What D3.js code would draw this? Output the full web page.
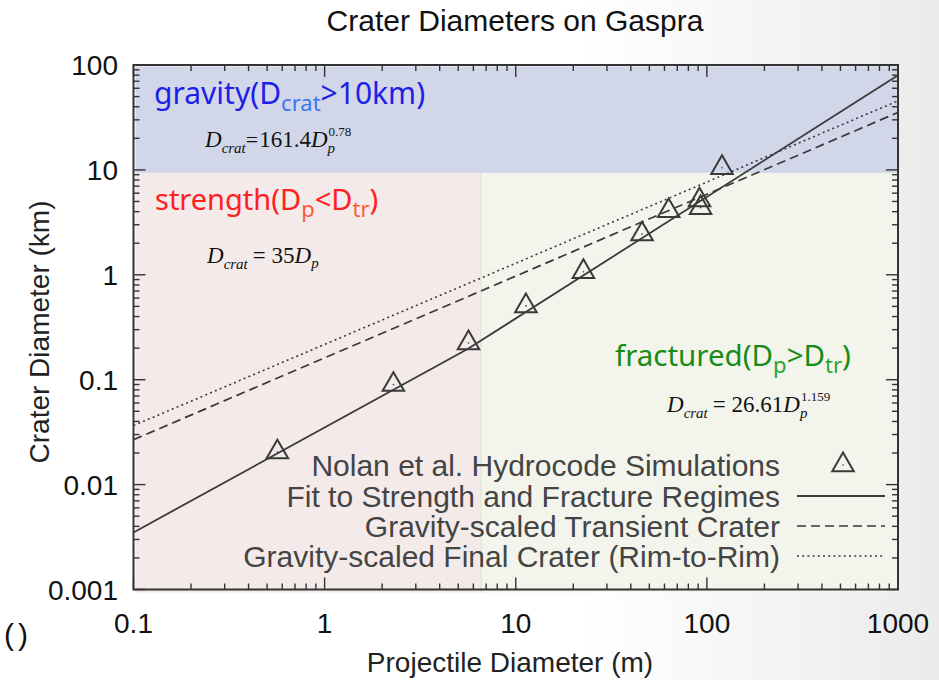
<!DOCTYPE html>
<html>
<head>
<meta charset="utf-8">
<script src="https://cdn.jsdelivr.net/npm/d3@7"></script>
<style>
  html, body { margin: 0; padding: 0; background: #fff; }
  svg { display: block; }
</style>
</head>
<body>
<svg id="chart" width="939" height="680"></svg>
<script>
// Hydrocode crater sizes on Gaspra: projectile diameter (m) vs crater diameter (km)
const simProjectile = [0.566, 2.29, 5.66, 11.3, 22.6, 45.8, 63.1, 91.5, 92.7, 120];
const simCrater     = [0.0204, 0.0898, 0.224, 0.505, 1.07, 2.44, 4.07, 5.15, 4.35, 10.5];

// Fit: 35 Dp in the strength regime, 26.61 Dp^1.159 in the fractured regime (metres -> km)
const fitProjectile = [0.1, 5.6, 1000];
const fitCrater     = [0.0035, 0.196, 79.8];

// Gravity scaling: transient 161.4 Dp^0.78, final rim-to-rim crater
const transientProjectile = [0.1, 1000];
const transientCrater     = [0.0268, 35.3];
const finalProjectile     = [0.1, 1000];
const finalCrater         = [0.0365, 45.5];

const strengthLimit = 6.5;   // projectile size (m) where the strength regime ends
const gravityLimit  = 10;    // crater size (km) above which gravity dominates

const xTicks      = [0.1, 1, 10, 100, 1000];
const xTickLabels = ["0.1", "1", "10", "100", "1000"];
const yTicks      = [0.001, 0.01, 0.1, 1, 10, 100];
const yTickLabels = ["0.001", "0.01", "0.1", "1", "10", "100"];

const legendLabels = [
  "Nolan et al. Hydrocode Simulations",
  "Fit to Strength and Fracture Regimes",
  "Gravity-scaled Transient Crater",
  "Gravity-scaled Final Crater (Rim-to-Rim)"
];

const W = 939, H = 680;
const plot = { left: 133.5, right: 898, top: 65, bottom: 589.5 };
const ink = "#3a3a3a";
const sans = "'Liberation Sans', Arial, Helvetica, sans-serif";
const serif = "'Liberation Serif', 'Times New Roman', serif";
const round = "'Noto Sans', 'Open Sans', sans-serif";

const svg = d3.select("#chart");

// page backdrop: white fading to light grey toward the right
const defs = svg.append("defs");
const bg = defs.append("linearGradient").attr("id", "pageBg")
  .attr("x1", "0").attr("x2", "1").attr("y1", "0").attr("y2", "0");
bg.append("stop").attr("offset", "0.62").attr("stop-color", "#ffffff");
bg.append("stop").attr("offset", "1").attr("stop-color", "#ebebeb");
svg.append("rect").attr("width", W).attr("height", H).attr("fill", "url(#pageBg)");

const x = d3.scaleLog().domain([0.1, 1000]).range([plot.left, plot.right]);
const y = d3.scaleLog().domain([0.001, 100]).range([plot.bottom, plot.top]);

// regime shading (drawn with a slight drop offset)
const shade = svg.append("g");
const xs = x(strengthLimit), yg = y(gravityLimit);
shade.append("rect")
  .attr("x", plot.left + 2).attr("y", plot.top + 1.5)
  .attr("width", plot.right - plot.left - 2).attr("height", yg - plot.top + 1.5)
  .attr("fill", "#d1d7e8");
shade.append("rect")
  .attr("x", plot.left + 2).attr("y", yg + 3)
  .attr("width", xs - plot.left - 2).attr("height", plot.bottom - yg)
  .attr("fill", "#f4eaea");
shade.append("rect")
  .attr("x", xs).attr("y", yg + 3)
  .attr("width", 2.5).attr("height", plot.bottom - yg)
  .attr("fill", "#e8e8dd");
shade.append("rect")
  .attr("x", xs + 2.5).attr("y", yg + 3)
  .attr("width", plot.right - xs - 2.5).attr("height", plot.bottom - yg)
  .attr("fill", "#f3f5ec");

// frame ticks on all four sides, pointing inward
const ticks = svg.append("g").attr("stroke", "#333").attr("stroke-width", 1.4);
const isMajor = v => Math.abs(Math.log10(v) - Math.round(Math.log10(v))) < 1e-9;
x.ticks().forEach(v => {
  const len = isMajor(v) ? 12 : 6;
  const px = x(v);
  ticks.append("line").attr("x1", px).attr("x2", px).attr("y1", plot.bottom).attr("y2", plot.bottom - len);
  ticks.append("line").attr("x1", px).attr("x2", px).attr("y1", plot.top).attr("y2", plot.top + len);
});
y.ticks().forEach(v => {
  const len = isMajor(v) ? 12 : 6;
  const py = y(v);
  ticks.append("line").attr("y1", py).attr("y2", py).attr("x1", plot.left).attr("x2", plot.left + len);
  ticks.append("line").attr("y1", py).attr("y2", py).attr("x1", plot.right).attr("x2", plot.right - len);
});

// frame
svg.append("rect")
  .attr("x", plot.left).attr("y", plot.top)
  .attr("width", plot.right - plot.left).attr("height", plot.bottom - plot.top)
  .attr("fill", "none").attr("stroke", "#333").attr("stroke-width", 2);

// tick labels
svg.append("g").selectAll("text").data(xTicks).join("text")
  .attr("x", d => x(d)).attr("y", 633)
  .attr("text-anchor", "middle")
  .attr("font-family", sans).attr("font-size", 28).attr("fill", "#111")
  .text((d, i) => xTickLabels[i]);
svg.append("g").selectAll("text").data(yTicks).join("text")
  .attr("x", 118).attr("y", d => y(d) + 10)
  .attr("text-anchor", "end")
  .attr("font-family", sans).attr("font-size", 28).attr("fill", "#111")
  .text((d, i) => yTickLabels[i]);

// lines
const line = d3.line().x(d => x(d[0])).y(d => y(d[1]));
const lines = svg.append("g").attr("fill", "none").attr("stroke", ink);
lines.append("path").datum(d3.zip(finalProjectile, finalCrater))
  .attr("d", line).attr("stroke-width", 1.6).attr("stroke-dasharray", "2,3.2");
lines.append("path").datum(d3.zip(transientProjectile, transientCrater))
  .attr("d", line).attr("stroke-width", 1.7).attr("stroke-dasharray", "9,5");
lines.append("path").datum(d3.zip(fitProjectile, fitCrater))
  .attr("d", line).attr("stroke-width", 1.8);

// simulation points
const tri = d3.symbol(d3.symbolTriangle, 200);
const pts = svg.append("g").selectAll("g").data(d3.zip(simProjectile, simCrater)).join("g")
  .attr("transform", d => `translate(${x(d[0])},${y(d[1])})`);
pts.append("path").attr("d", tri).attr("fill", "none").attr("stroke", ink).attr("stroke-width", 2);
pts.append("circle").attr("r", 0.8).attr("fill", ink);

// text runs with subscripts / superscripts
function richText(x0, y0, parts) {
  const g = svg.append("g");
  let cx = x0, subStart = x0;
  parts.forEach(p => {
    let px = cx + (p.lead || 0);
    if (p.role === "sup" && p.over) px = subStart + (p.lead || 0);
    const t = g.append("text")
      .attr("x", px).attr("y", y0 + (p.dy || 0))
      .attr("font-family", p.family).attr("font-size", p.size)
      .attr("font-style", p.italic ? "italic" : "normal")
      .attr("fill", p.color)
      .text(p.text);
    const w = t.node().getComputedTextLength();
    if (p.role === "sub") subStart = px;
    if (p.role === "sup" && p.over) cx = Math.max(cx, px + w);
    else cx = px + w + (p.gap || 0);
  });
  return g;
}

const gBlue = "#1e1ee6", gBlueSub = "#3c74f2";
richText(154, 104, [
  { text: "gravity(D", family: round, size: 30, color: gBlue },
  { text: "crat", family: round, size: 22, color: gBlueSub, dy: 7 },
  { text: ">10km)", family: round, size: 30, color: gBlue }
]);
richText(155, 210, [
  { text: "strength(D", family: round, size: 29, color: "#ff2020" },
  { text: "p", family: round, size: 22, color: "#ff5a3a", dy: 7 },
  { text: "<D", family: round, size: 29, color: "#ff2020" },
  { text: "tr", family: round, size: 22, color: "#ff5a3a", dy: 7 },
  { text: ")", family: round, size: 29, color: "#ff2020" }
]);
richText(615, 366, [
  { text: "fractured(D", family: round, size: 29.5, color: "#168c16" },
  { text: "p", family: round, size: 22, color: "#2aa42a", dy: 7 },
  { text: ">D", family: round, size: 29.5, color: "#168c16" },
  { text: "tr", family: round, size: 22, color: "#2aa42a", dy: 7 },
  { text: ")", family: round, size: 29.5, color: "#168c16" }
]);

// scaling-law equations
const eqc = "#111";
richText(205, 147, [
  { text: "D", family: serif, size: 23, italic: true, color: eqc },
  { text: "crat", family: serif, size: 15, italic: true, color: eqc, dy: 6, role: "sub", gap: 0 },
  { text: "=", family: serif, size: 22, color: eqc, gap: 1 },
  { text: "161.4", family: serif, size: 23, color: eqc },
  { text: "D", family: serif, size: 23, italic: true, color: eqc },
  { text: "p", family: serif, size: 15, italic: true, color: eqc, dy: 6, role: "sub" },
  { text: "0.78", family: serif, size: 13, color: eqc, dy: -11, role: "sup", over: true, lead: 1 }
]);
richText(207, 263, [
  { text: "D", family: serif, size: 23, italic: true, color: eqc },
  { text: "crat", family: serif, size: 15, italic: true, color: eqc, dy: 6, role: "sub", gap: 5 },
  { text: "= 35", family: serif, size: 23, color: eqc },
  { text: "D", family: serif, size: 23, italic: true, color: eqc },
  { text: "p", family: serif, size: 15, italic: true, color: eqc, dy: 5, role: "sub" }
]);
richText(667, 412, [
  { text: "D", family: serif, size: 23, italic: true, color: eqc },
  { text: "crat", family: serif, size: 15, italic: true, color: eqc, dy: 6, role: "sub", gap: 5 },
  { text: "= 26.61", family: serif, size: 23, color: eqc },
  { text: "D", family: serif, size: 23, italic: true, color: eqc },
  { text: "p", family: serif, size: 15, italic: true, color: eqc, dy: 6, role: "sub" },
  { text: "1.159", family: serif, size: 13, color: eqc, dy: -11, role: "sup", over: true, lead: 1 }
]);

// legend
const legY = [476, 507, 537, 567];
const leg = svg.append("g");
leg.selectAll("text").data(legendLabels).join("text")
  .attr("x", 780).attr("y", (d, i) => legY[i])
  .attr("text-anchor", "end")
  .attr("font-family", sans).attr("font-size", 30).attr("fill", "#444")
  .text(d => d);
const legSym = leg.append("g").attr("transform", `translate(843,${legY[0] - 11})`);
legSym.append("path").attr("d", tri).attr("fill", "none").attr("stroke", ink).attr("stroke-width", 2);
legSym.append("circle").attr("r", 0.8).attr("fill", ink);
const legDash = [null, "9,5", "2,3.2"];
legDash.forEach((dash, i) => {
  leg.append("line")
    .attr("x1", 797).attr("x2", 885)
    .attr("y1", legY[i + 1] - 11).attr("y2", legY[i + 1] - 11)
    .attr("stroke", ink).attr("stroke-width", i === 0 ? 1.8 : 1.6)
    .attr("stroke-dasharray", dash);
});

// titles
svg.append("text")
  .attr("x", 515).attr("y", 31).attr("text-anchor", "middle")
  .attr("font-family", sans).attr("font-size", 30).attr("fill", "#111")
  .text("Crater Diameters on Gaspra");
svg.append("text")
  .attr("x", 510).attr("y", 672).attr("text-anchor", "middle")
  .attr("font-family", sans).attr("font-size", 28).attr("fill", "#222")
  .text("Projectile Diameter (m)");
svg.append("text")
  .attr("transform", "translate(49,332) rotate(-90)").attr("text-anchor", "middle")
  .attr("font-family", sans).attr("font-size", 28).attr("fill", "#222")
  .text("Crater Diameter (km)");

// panel marker at the lower-left edge
svg.append("text")
  .attr("x", 4).attr("y", 645)
  .attr("font-family", sans).attr("font-size", 30).attr("fill", "#111")
  .attr("letter-spacing", 4)
  .text("()");
</script>
</body>
</html>
